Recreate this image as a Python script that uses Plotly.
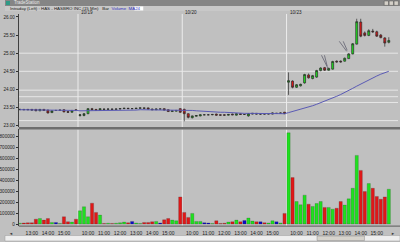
import plotly.graph_objects as go

# ---------------- data ----------------
days = ["10/18", "10/19", "10/20", "10/23"]
session = ["09:30", "09:45", "10:00", "10:15", "10:30", "10:45", "11:00", "11:15",
           "11:30", "11:45", "12:00", "12:15", "12:30", "12:45", "13:00", "13:15",
           "13:30", "13:45", "14:00", "14:15", "14:30", "14:45", "15:00", "15:15",
           "15:30", "15:45"]
first_day_start = "12:15"

opens = [
    23.44, 23.45, 23.45, 23.45, 23.45, 23.41, 23.45, 23.43, 23.36, 23.42, 23.42, 23.44, 23.39, 23.37, 23.44,
    23.28, 23.28, 23.33, 23.47, 23.45, 23.42, 23.46, 23.45, 23.46, 23.45, 23.46, 23.47, 23.48, 23.47, 23.47,
    23.48, 23.49, 23.49, 23.46, 23.44, 23.46, 23.47, 23.44, 23.39, 23.40, 23.47,
    23.45, 23.33, 23.22, 23.26, 23.27, 23.30, 23.30, 23.30, 23.32, 23.30, 23.30, 23.29, 23.32, 23.29, 23.33,
    23.31, 23.27, 23.32, 23.34, 23.32, 23.33, 23.32, 23.32, 23.34, 23.34, 23.37,
    24.20, 24.23, 24.06, 24.10, 24.18, 24.40, 24.30, 24.34, 24.52, 24.60, 24.53, 24.56, 24.78, 24.78, 24.78,
    24.85, 24.98, 25.25, 25.86, 25.56, 25.49, 25.61, 25.59, 25.50, 25.42, 25.30]
highs = [
    23.46, 23.46, 23.46, 23.46, 23.46, 23.46, 23.46, 23.44, 23.42, 23.43, 23.44, 23.45, 23.40, 23.43, 23.45,
    23.32, 23.35, 23.48, 23.49, 23.46, 23.48, 23.47, 23.47, 23.47, 23.47, 23.48, 23.49, 23.49, 23.48, 23.49,
    23.50, 23.50, 23.50, 23.47, 23.47, 23.47, 23.48, 23.45, 23.42, 23.43, 23.48,
    23.47, 23.34, 23.28, 23.29, 23.31, 23.31, 23.31, 23.32, 23.33, 23.31, 23.31, 23.32, 23.33, 23.34, 23.34,
    23.32, 23.35, 23.35, 23.35, 23.33, 23.34, 23.34, 23.36, 23.35, 23.36, 23.38,
    24.47, 24.25, 24.15, 24.16, 24.43, 24.44, 24.40, 24.54, 24.61, 24.62, 24.60, 24.79, 24.80, 24.80, 24.88,
    25.00, 25.28, 25.95, 25.95, 25.60, 25.66, 25.67, 25.62, 25.53, 25.44, 25.44]
lows = [
    23.43, 23.43, 23.43, 23.42, 23.40, 23.40, 23.41, 23.34, 23.35, 23.41, 23.41, 23.37, 23.35, 23.36, 23.41,
    23.25, 23.26, 23.32, 23.43, 23.41, 23.41, 23.44, 23.44, 23.44, 23.44, 23.45, 23.46, 23.46, 23.46, 23.46,
    23.47, 23.47, 23.45, 23.43, 23.43, 23.45, 23.42, 23.38, 23.38, 23.39, 23.35,
    23.12, 23.20, 23.20, 23.25, 23.26, 23.29, 23.29, 23.29, 23.28, 23.28, 23.28, 23.28, 23.29, 23.28, 23.30,
    23.30, 23.25, 23.31, 23.31, 23.31, 23.31, 23.31, 23.31, 23.33, 23.33, 23.32,
    23.85, 24.03, 24.04, 24.08, 24.16, 24.30, 24.28, 24.32, 24.50, 24.51, 24.52, 24.55, 24.74, 24.74, 24.77,
    24.84, 24.97, 25.24, 25.44, 25.46, 25.47, 25.56, 25.45, 25.41, 25.18, 25.27]
closes = [
    23.45, 23.44, 23.44, 23.43, 23.41, 23.45, 23.42, 23.35, 23.41, 23.42, 23.43, 23.38, 23.37, 23.42, 23.42,
    23.30, 23.33, 23.47, 23.44, 23.42, 23.47, 23.45, 23.46, 23.45, 23.46, 23.47, 23.48, 23.47, 23.47, 23.48,
    23.49, 23.48, 23.46, 23.44, 23.46, 23.46, 23.43, 23.39, 23.41, 23.42, 23.37,
    23.33, 23.23, 23.27, 23.28, 23.30, 23.30, 23.30, 23.31, 23.29, 23.29, 23.29, 23.31, 23.30, 23.33, 23.31,
    23.31, 23.33, 23.34, 23.32, 23.32, 23.32, 23.33, 23.35, 23.34, 23.35, 23.33,
    24.24, 24.06, 24.13, 24.14, 24.41, 24.32, 24.38, 24.52, 24.59, 24.53, 24.58, 24.77, 24.76, 24.76, 24.86,
    24.98, 25.26, 25.87, 25.47, 25.49, 25.62, 25.59, 25.47, 25.43, 25.28, 25.35]
volumes = [
    8000, 10000, 12000, 12000, 45000, 51000, 36000, 51000, 15000, 15000, 6000, 67000, 21000, 18000, 45000,
    121000, 158000, 67000, 191000, 106000, 82000, 6000, 8000, 6000, 8000, 12000, 18000, 12000, 24000, 10000,
    6000, 15000, 15000, 21000, 24000, 10000, 39000, 51000, 36000, 30000, 248000,
    106000, 61000, 97000, 24000, 24000, 12000, 10000, 6000, 30000, 6000, 8000, 18000, 21000, 36000, 21000,
    33000, 55000, 27000, 21000, 21000, 12000, 10000, 30000, 21000, 10000, 97000,
    833000, 424000, 206000, 176000, 264000, 182000, 161000, 188000, 206000, 152000, 152000, 136000, 145000,
    206000, 173000, 230000, 327000, 627000, 490000, 297000, 370000, 327000, 252000, 227000, 248000, 318000]
ma24 = [
    23.44, 23.44, 23.44, 23.44, 23.43, 23.43, 23.43, 23.43, 23.43, 23.42, 23.42, 23.42, 23.42, 23.42, 23.42,
    23.41, 23.41, 23.41, 23.41, 23.41, 23.41, 23.41, 23.41, 23.42, 23.42, 23.42, 23.42, 23.43, 23.43, 23.43,
    23.44, 23.44, 23.44, 23.44, 23.44, 23.44, 23.44, 23.44, 23.44, 23.44, 23.43,
    23.43, 23.42, 23.42, 23.41, 23.40, 23.40, 23.39, 23.38, 23.38, 23.37, 23.37, 23.36, 23.36, 23.35, 23.35,
    23.34, 23.34, 23.34, 23.33, 23.33, 23.33, 23.33, 23.33, 23.33, 23.33, 23.33,
    23.36, 23.39, 23.41, 23.44, 23.48, 23.52, 23.55, 23.59, 23.63, 23.67, 23.71, 23.76, 23.81, 23.86, 23.91,
    23.97, 24.03, 24.09, 24.15, 24.21, 24.26, 24.32, 24.37, 24.42, 24.46, 24.50]
levels = [25.00, 24.50, 23.98, 23.80, 23.64, 23.14]
hour_labels = ["10:00", "11:00", "12:00", "13:00", "14:00", "15:00"]
price_ticks = [23.0, 23.5, 24.0, 24.5, 25.0, 25.5, 26.0]
vol_ticks = [0, 100000, 200000, 300000, 400000, 500000, 600000, 700000, 800000]

# ---------------- build categories ----------------
bar_times = []
for d in days:
    slots = session[session.index(first_day_start):] if d == days[0] else session
    for s in slots:
        bar_times.append(f"{d} {s}")
tick_vals = [t for t in bar_times if t.split(" ")[1] in hour_labels]
tick_text = [t.split(" ")[1] for t in tick_vals]
day_first = [next(i for i, t in enumerate(bar_times) if t.startswith(d)) for d in days[1:]]

GREEN, RED, BLUE = "#1fe01f", "#e01818", "#0a0ac8"
vol_colors = [GREEN if c > o else RED if c < o else BLUE for o, c in zip(opens, closes)]

W, H = 400, 242
def px(x): return x / W
def py(y): return 1 - y / H

XDOM = [px(14), px(398)]
PDOM = [py(128), py(14)]
VDOM = [py(227), py(130)]
FONT = "Liberation Sans"

fig = go.Figure()
fig.add_trace(go.Candlestick(
    x=bar_times, open=opens, high=highs, low=lows, close=closes,
    increasing=dict(fillcolor=GREEN, line=dict(color="#2a2a2a", width=0.7)),
    decreasing=dict(fillcolor=RED, line=dict(color="#2a2a2a", width=0.7)),
    whiskerwidth=0, xaxis="x", yaxis="y", showlegend=False, hoverinfo="skip"))
fig.add_trace(go.Scatter(x=bar_times, y=ma24, mode="lines",
                         line=dict(color="#5a5ab4", width=1),
                         xaxis="x", yaxis="y", showlegend=False, hoverinfo="skip"))
fig.add_trace(go.Bar(x=bar_times, y=volumes, marker=dict(color=vol_colors,
                     line=dict(color="rgba(40,40,40,0.5)", width=0.4)),
                     xaxis="x2", yaxis="y2", showlegend=False, hoverinfo="skip"))

xr = [-0.25, 94.3]
axis_common = dict(type="category", range=xr, domain=XDOM, showgrid=False, zeroline=False,
                   categoryorder="array", categoryarray=bar_times)
fig.update_layout(
    width=W, height=H, margin=dict(l=0, r=0, t=0, b=0),
    paper_bgcolor="#c0c0c0", plot_bgcolor="#c0c0c0",
    font=dict(family=FONT, size=5, color="#202020"),
    bargap=0.2,
    xaxis=dict(anchor="y", showticklabels=False, ticks="", rangeslider=dict(visible=False),
               **axis_common),
    xaxis2=dict(anchor="y2", tickmode="array", tickvals=tick_vals, ticktext=tick_text,
                ticks="", ticklabelstandoff=3, tickfont=dict(size=5, color="#202020"),
                **axis_common),
    yaxis=dict(domain=PDOM, range=[22.9505, 26.0824], tickmode="array", tickvals=price_ticks,
               tickformat=".2f", ticks="outside", ticklen=2, tickcolor="#303030",
               showgrid=False, zeroline=False, showline=True, linecolor="#404040", linewidth=1,
               tickfont=dict(size=4.6, color="#202020")),
    yaxis2=dict(domain=VDOM, range=[-18200, 863600], tickmode="array", tickvals=vol_ticks,
                tickformat="d", ticks="outside", ticklen=2, tickcolor="#303030",
                showgrid=False, zeroline=False, showline=True, linecolor="#404040", linewidth=1,
                tickfont=dict(size=4.6, color="#202020")),
)

shapes = []
# support/resistance level lines
for lv in levels:
    shapes.append(dict(type="line", xref="x domain", yref="y", x0=0, x1=1, y0=lv, y1=lv,
                       line=dict(color="#e6e6e6", width=1), layer="below"))
# day separators
for k in day_first:
    for yref in ("y domain", "y2 domain"):
        shapes.append(dict(type="line", xref="x", yref=yref, x0=k - 0.5, x1=k - 0.5, y0=0, y1=1,
                           line=dict(color="#ececec", width=1), layer="below"))
# panel separators
shapes.append(dict(type="rect", xref="paper", yref="paper", x0=px(14), x1=1, y0=py(130), y1=py(127.5),
                   fillcolor="#6e6e6e", line=dict(width=0)))
shapes.append(dict(type="line", xref="paper", yref="paper", x0=px(14), x1=1, y0=py(227), y1=py(227),
                   line=dict(color="#6e6e6e", width=1.2)))
# window title bar
shapes.append(dict(type="rect", xref="paper", yref="paper", x0=0, x1=1, y0=py(6), y1=1,
                   fillcolor="#858585", line=dict(width=0)))
shapes.append(dict(type="rect", xref="paper", yref="paper", x0=px(1), x1=px(5), y0=py(5), y1=py(1),
                   fillcolor="#2e9a86", line=dict(width=0)))
for bx in (384, 389, 394):
    shapes.append(dict(type="rect", xref="paper", yref="paper", x0=px(bx), x1=px(bx + 4.4),
                       y0=py(5.4), y1=py(1), fillcolor="#d4d0c8", line=dict(color="#555", width=0.5)))
# header strip
shapes.append(dict(type="rect", xref="paper", yref="paper", x0=0, x1=1, y0=py(11), y1=py(6),
                   fillcolor="#c8c8c8", line=dict(width=0)))
shapes.append(dict(type="rect", xref="paper", yref="paper", x0=px(131), x1=px(140), y0=py(10.5),
                   y1=py(6.5), fillcolor="#ffffff", line=dict(width=0)))
# scrollbar
shapes.append(dict(type="rect", xref="paper", yref="paper", x0=0, x1=1, y0=0, y1=py(236.5),
                   fillcolor="#eeeeee", line=dict(color="#9a9a9a", width=0.5)))
shapes.append(dict(type="rect", xref="paper", yref="paper", x0=px(316), x1=px(364), y0=py(241.5),
                   y1=py(237), fillcolor="#d6d3cc", line=dict(color="#888", width=0.5)))
# hand-drawn arrow strokes on 10/23
for (x0, y0, x1, y1) in [(320.5, 55.5, 327, 68.5), (323.5, 55.5, 326.3, 66.5),
                         (338.5, 41.5, 346, 51.5), (342.5, 41.5, 346.5, 50.5)]:
    shapes.append(dict(type="line", xref="paper", yref="paper", x0=px(x0), y0=py(y0), x1=px(x1),
                       y1=py(y1), line=dict(color="#555566", width=0.7)))
fig.update_layout(shapes=shapes)

ann = []
ann.append(dict(text="TradeStation", xref="paper", yref="paper", x=px(7), y=py(3), xanchor="left",
                yanchor="middle", showarrow=False, font=dict(size=4.5, color="#e8e8e8")))
ann.append(dict(text="Intraday (Left) : HAS - HASBRO INC (15 Min)   Bar  <span style='color:#3030c0'>Volume  MA24</span>",
                xref="paper", yref="paper", x=px(3), y=py(8.6), xanchor="left", yanchor="middle",
                showarrow=False, font=dict(size=4.4, color="#202020")))
for k, d in zip(day_first, days[1:]):
    ann.append(dict(text=d, xref="x", yref="paper", x=k - 0.2, y=py(12.4), xanchor="left",
                    yanchor="middle", showarrow=False, font=dict(size=4.6, color="#202020")))
ann.append(dict(text="◄", xref="paper", yref="paper", x=px(2.5), y=py(239.3), showarrow=False,
                font=dict(size=4, color="#333")))
ann.append(dict(text="►", xref="paper", yref="paper", x=px(397), y=py(239.3), showarrow=False,
                font=dict(size=4, color="#333")))
fig.update_layout(annotations=ann)

fig.write_html("out.html")
